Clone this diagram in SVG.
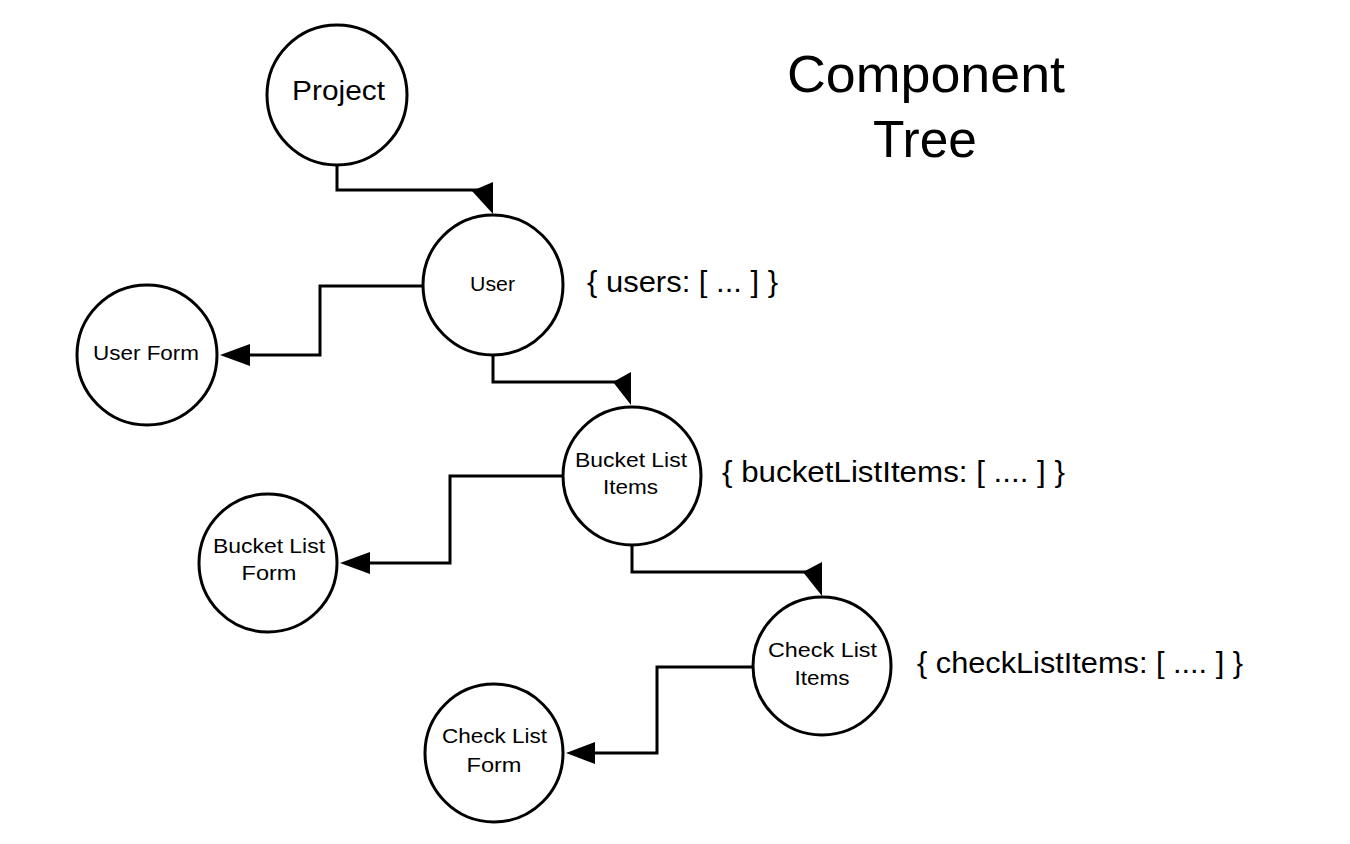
<svg xmlns="http://www.w3.org/2000/svg" width="1350" height="844" viewBox="0 0 1350 844">
<style>
.node{fill:#fff;stroke:#000;stroke-width:3}
.lbl{font-family:"Liberation Sans",Arial,sans-serif;fill:#000;text-anchor:middle}
.conn{fill:none;stroke:#000;stroke-width:3}
.head{fill:#000;stroke:none}
</style>
<rect width="1350" height="844" fill="#fff"/>
<g id="connectors">
<path class="conn" d="M337,165 V190 H488"/>
<polygon class="head" points="493,182 472,191 493,214"/>
<path class="conn" d="M423,286 H320 V355 H248"/>
<polygon class="head" points="220,355 250,344 250,366"/>
<path class="conn" d="M493,355 V382 H626"/>
<polygon class="head" points="631,372 613,382 631,405"/>
<path class="conn" d="M562,476 H450 V563 H368"/>
<polygon class="head" points="340,563 370,552 370,574"/>
<path class="conn" d="M632,545 V572 H817"/>
<polygon class="head" points="822,562 803,572 822,596"/>
<path class="conn" d="M752,667 H657 V753 H593"/>
<polygon class="head" points="566,753 595,742 595,764"/>
</g>
<g id="project">
<circle class="node" cx="337" cy="95" r="70"/>
<text class="lbl" x="338.5" y="100" font-size="27" textLength="93" lengthAdjust="spacingAndGlyphs">Project</text>
</g>
<g id="user">
<circle class="node" cx="493" cy="285" r="70"/>
<text class="lbl" x="492.5" y="291" font-size="21" textLength="45" lengthAdjust="spacingAndGlyphs">User</text>
</g>
<g id="user-form">
<circle class="node" cx="147" cy="355" r="70"/>
<text class="lbl" x="146" y="360" font-size="21" textLength="106" lengthAdjust="spacingAndGlyphs">User Form</text>
</g>
<g id="bucket-list-items">
<circle class="node" cx="632" cy="476" r="69"/>
<text class="lbl" x="631" y="467" font-size="21" textLength="112" lengthAdjust="spacingAndGlyphs">Bucket List</text>
<text class="lbl" x="630.5" y="494" font-size="21" textLength="55" lengthAdjust="spacingAndGlyphs">Items</text>
</g>
<g id="bucket-list-form">
<circle class="node" cx="268" cy="563" r="69"/>
<text class="lbl" x="269" y="553" font-size="21" textLength="112" lengthAdjust="spacingAndGlyphs">Bucket List</text>
<text class="lbl" x="269" y="580" font-size="21" textLength="55" lengthAdjust="spacingAndGlyphs">Form</text>
</g>
<g id="check-list-items">
<circle class="node" cx="822" cy="666" r="69"/>
<text class="lbl" x="822.5" y="657" font-size="21" textLength="109" lengthAdjust="spacingAndGlyphs">Check List</text>
<text class="lbl" x="822" y="685" font-size="21" textLength="55" lengthAdjust="spacingAndGlyphs">Items</text>
</g>
<g id="check-list-form">
<circle class="node" cx="494" cy="753" r="69"/>
<text class="lbl" x="494.5" y="743" font-size="21" textLength="105" lengthAdjust="spacingAndGlyphs">Check List</text>
<text class="lbl" x="494" y="772" font-size="21" textLength="55" lengthAdjust="spacingAndGlyphs">Form</text>
</g>
<g id="annotations">
<text class="lbl" x="926" y="92" font-size="52" textLength="278" lengthAdjust="spacingAndGlyphs">Component</text>
<text class="lbl" x="925" y="157" font-size="52" textLength="104" lengthAdjust="spacingAndGlyphs">Tree</text>
<text class="lbl" x="682.5" y="292" font-size="30" textLength="191" lengthAdjust="spacingAndGlyphs">{ users: [ ... ] }</text>
<text class="lbl" x="893.5" y="482" font-size="30" textLength="343" lengthAdjust="spacingAndGlyphs">{ bucketListItems: [ .... ] }</text>
<text class="lbl" x="1080" y="673" font-size="30" textLength="326" lengthAdjust="spacingAndGlyphs">{ checkListItems: [ .... ] }</text>
</g>
</svg>
